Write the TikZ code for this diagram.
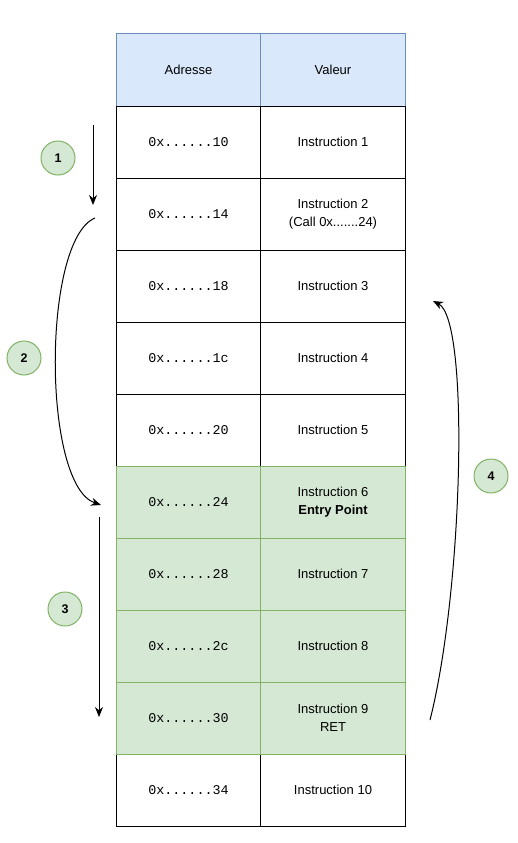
\documentclass[tikz,border=0pt]{standalone}
\usepackage{fontspec}
\setmainfont{Liberation Sans}
\setmonofont{Liberation Mono}
\usetikzlibrary{arrows.meta}

\definecolor{hdrfill}{HTML}{DAE8FC}
\definecolor{hdrline}{HTML}{6C8EBF}
\definecolor{grnfill}{HTML}{D5E8D4}
\definecolor{grnline}{HTML}{82B366}

\tikzset{
  cell/.style={draw=black, fill=white, line width=1pt, minimum width=145pt, minimum height=72pt,
    inner sep=0pt, align=center, font=\fontsize{13}{18}\selectfont},
  addr/.style={cell, font=\fontsize{13.4}{16}\ttfamily},
  hdr/.style={cell, draw=hdrline, fill=hdrfill},
  grn/.style={draw=grnline, fill=grnfill},
  stepnum/.style={circle, draw=grnline, fill=grnfill, line width=1pt, minimum size=34pt,
    inner sep=0pt, font=\fontsize{12.5}{14}\bfseries},
  flow/.style={-{Stealth[length=10pt,width=8pt]}, line width=1pt}
}

\begin{document}
\begin{tikzpicture}[x=1pt,y=-1pt]
\useasboundingbox (0,0) rectangle (517,843);
% header
\node[hdr](hA) at (188.5,70) {Adresse};
\node[hdr](hV) at (333,70) {Valeur};
% plain rows
\node[addr](a10) at (188.5,142) {0x......10};
\node[cell](v10) at (333,142) {Instruction 1};
\node[addr](a14) at (188.5,214) {0x......14};
\node[cell](v14) at (333,214) {Instruction 2\\(Call 0x.......24)};
\node[addr](a18) at (188.5,286) {0x......18};
\node[cell](v18) at (333,286) {Instruction 3};
\node[addr](a1c) at (188.5,358) {0x......1c};
\node[cell](v1c) at (333,358) {Instruction 4};
\node[addr](a20) at (188.5,430) {0x......20};
\node[cell](v20) at (333,430) {Instruction 5};
\node[addr](a34) at (188.5,790) {0x......34};
\node[cell](v34) at (333,790) {Instruction 10};
% called routine
\node[addr,grn](a24) at (188.5,502) {0x......24};
\node[cell,grn](v24) at (333,502) {Instruction 6\\\textbf{Entry Point}};
\node[addr,grn](a28) at (188.5,574) {0x......28};
\node[cell,grn](v28) at (333,574) {Instruction 7};
\node[addr,grn](a2c) at (188.5,646) {0x......2c};
\node[cell,grn](v2c) at (333,646) {Instruction 8};
\node[addr,grn](a30) at (188.5,718) {0x......30};
\node[cell,grn](v30) at (333,718) {Instruction 9\\RET};
%
\coordinate(s1) at (93,125);
\coordinate(e1) at (93,205);
\coordinate(s2) at (95,218);
\coordinate(e2) at (101,505);
\coordinate(s3) at (99,517);
\coordinate(e3) at (99,717);
\coordinate(s4) at (430,720);
\coordinate(e4) at (433,301);
\draw[flow](s1) -- (e1);
\draw[flow](s2) .. controls (42,240) and (42,485) .. (e2);
\draw[flow](s3) -- (e3);
\draw[flow](s4) .. controls (463,590) and (470,320) .. (e4);
%
\node[stepnum](n1) at (58,158) {1};
\node[stepnum](n2) at (24,358) {2};
\node[stepnum](n3) at (65,609) {3};
\node[stepnum](n4) at (491,476) {4};
\end{tikzpicture}
\end{document}
